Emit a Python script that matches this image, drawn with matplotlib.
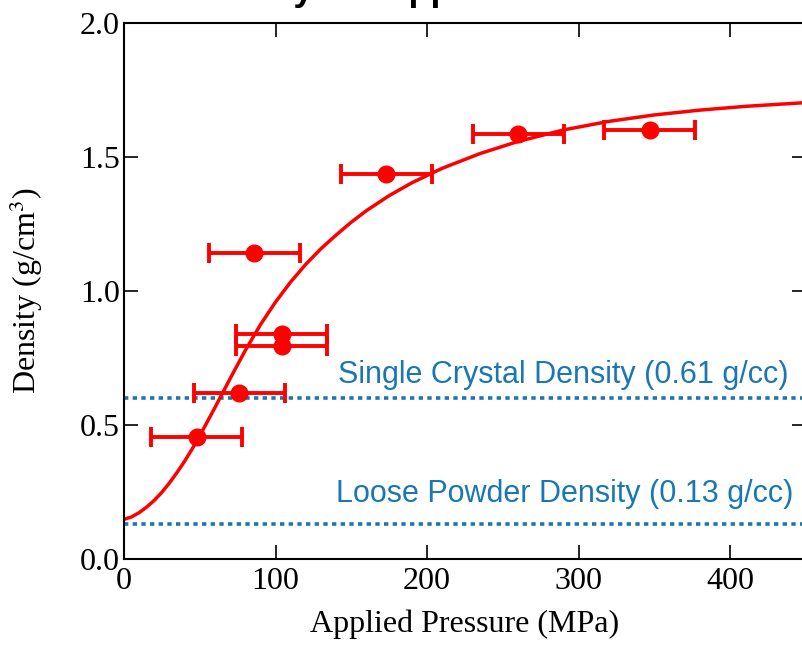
import matplotlib
matplotlib.use("Agg")
import matplotlib.pyplot as plt
import matplotlib.ticker as ticker

# measured points: pressure (MPa), density (g/cc), pressure error
pressure = [48, 76, 104, 104, 86, 173, 260, 347]
density = [0.455, 0.62, 0.84, 0.795, 1.142, 1.437, 1.584, 1.60]
pressure_err = [30, 30, 30, 30, 30, 30, 30, 30]

# fitted curve
fit_pressure = [0, 5, 10, 15, 20, 25, 30, 35, 40, 45, 50, 60, 70, 80, 90,
                100, 110, 120, 130, 140, 150, 160, 175, 190, 210, 235, 260,
                290, 320, 350, 380, 410, 450]
fit_density = [0.148, 0.157, 0.173, 0.194, 0.219, 0.249, 0.284, 0.323,
               0.365, 0.411, 0.460, 0.565, 0.673, 0.778, 0.874, 0.959,
               1.034, 1.100, 1.158, 1.209, 1.257, 1.300, 1.356, 1.404,
               1.458, 1.513, 1.558, 1.601, 1.633, 1.657, 1.675, 1.689,
               1.703]

single_crystal = 0.60
loose_powder = 0.13
ref_labels = ["Single Crystal Density (0.61 g/cc)",
              "Loose Powder Density (0.13 g/cc)"]

RED = "#ff0000"
BLUE = "#1a77b2"

plt.rcParams['font.family'] = ['Liberation Serif', 'DejaVu Serif']
plt.rcParams['mathtext.fontset'] = 'stix'

fig = plt.figure(figsize=(8.03, 6.47), dpi=100)
ax = fig.add_axes([124 / 803, 88 / 647, 682 / 803, 536 / 647])

ax.plot(fit_pressure, fit_density, color=RED, lw=2.5, zorder=2)

for val in (single_crystal, loose_powder):
    ax.axhline(val, color=BLUE, lw=2.6, linestyle=(0, (1.2, 1.2)), zorder=1)

ax.errorbar(pressure, density, xerr=pressure_err, fmt='o', color=RED,
            ms=12, elinewidth=2.8, capsize=7, capthick=2.8, zorder=3)

ax.text(141, 0.657, ref_labels[0], color=BLUE, fontsize=22,
        family=['Liberation Sans'], va='baseline', ha='left')
ax.text(140, 0.213, ref_labels[1], color=BLUE, fontsize=22,
        family=['Liberation Sans'], va='baseline', ha='left')

ax.set_xlim(0, 450)
ax.set_ylim(0, 2.0)
ax.xaxis.set_major_locator(ticker.MultipleLocator(100))
ax.yaxis.set_major_locator(ticker.MultipleLocator(0.5))
ax.yaxis.set_major_formatter(ticker.FormatStrFormatter('%.1f'))
ax.tick_params(direction='in', length=10, width=1.2, labelsize=23,
               top=True, right=True)
ax.tick_params(axis='x', pad=6)
ax.tick_params(axis='y', pad=3)
for sp in ax.spines.values():
    sp.set_linewidth(1.5)

ax.set_xlabel('Applied Pressure (MPa)', fontsize=23)
ax.set_ylabel('Density (g/cm$^3$)', fontsize=23)
ax.xaxis.set_label_coords(0.5, -0.095)
ax.yaxis.set_label_coords(-0.116, 0.5)

# title sits above the top edge, only its descenders show
fig.text(183 / 803, 1 - 0.5 / 647, 'Density vs. Applied Pressure',
         family=['Liberation Sans'], fontweight='bold', fontsize=26,
         va='baseline', ha='left')

fig.savefig('out.png', dpi=100)
